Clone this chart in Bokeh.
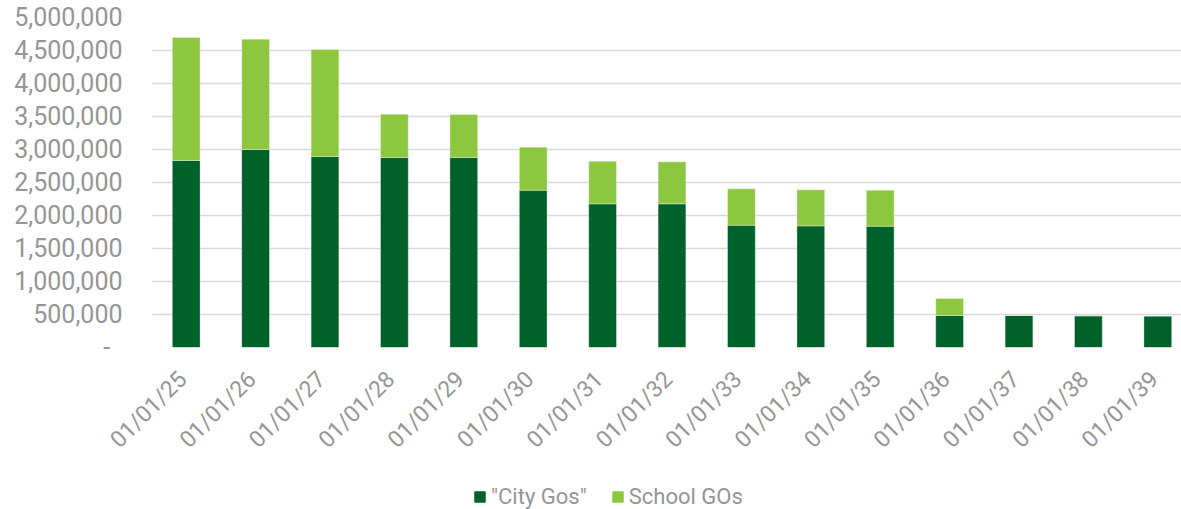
from bokeh.plotting import figure
from bokeh.models import (ColumnDataSource, Range1d, FixedTicker, Legend, LegendItem)
from bokeh.layouts import column
from bokeh.embed import file_html
from bokeh.resources import INLINE
import math

# ---- data ----
dates = ["01/01/25", "01/01/26", "01/01/27", "01/01/28", "01/01/29", "01/01/30",
         "01/01/31", "01/01/32", "01/01/33", "01/01/34", "01/01/35", "01/01/36",
         "01/01/37", "01/01/38", "01/01/39"]
city_gos = [2833000, 3000000, 2894000, 2879000, 2879000, 2383000, 2177000, 2177000,
            1853000, 1843000, 1838000, 485000, 485000, 480000, 477000]
school_gos = [1864000, 1672000, 1621000, 656000, 651000, 652000, 646000, 636000,
              551000, 546000, 546000, 257000, 0, 0, 0]
series_names = ['"City Gos"', "School GOs"]
ytick_values = [0, 500000, 1000000, 1500000, 2000000, 2500000, 3000000,
                3500000, 4000000, 4500000, 5000000]
ytick_labels = ["-\u00a0\u00a0", "500,000", "1,000,000", "1,500,000", "2,000,000",
                "2,500,000", "3,000,000", "3,500,000", "4,000,000", "4,500,000",
                "5,000,000"]

# ---- style ----
DARK = "#00612A"
LIGHT = "#8DC63F"
GRID = "#d9d9d9"
TEXT = "#959595"
FONT = "Roboto"
COLORS = [DARK, LIGHT]

W = 1181
H_MAIN, H_LEG = 469, 40
LEFT, TOP = 151, 17
FRAME_BOTTOM = 347
spacing_px = 69.4
label_shift = -0.05   # small nudge of rotated labels relative to bar centres
frame_w = W - LEFT

xs = list(range(len(dates)))
source = ColumnDataSource(dict(x=xs, city=city_gos, school=school_gos))

p = figure(width=W, height=H_MAIN, output_backend="svg", toolbar_location=None,
           x_range=Range1d(-0.5, -0.5 + frame_w / spacing_px),
           y_range=Range1d(0, 5000000),
           min_border_left=LEFT, min_border_right=0,
           min_border_top=TOP, min_border_bottom=H_MAIN - FRAME_BOTTOM)
p.outline_line_color = None
p.background_fill_color = "white"
p.border_fill_color = "white"

rs = p.vbar_stack(["city", "school"], x="x", width=0.40, source=source,
                  color=COLORS, line_color="white", line_alpha=0.35,
                  line_width=1)

# grid
p.xgrid.grid_line_color = None
p.ygrid.grid_line_color = GRID
p.ygrid.grid_line_width = 1.5

# y axis
p.yaxis.ticker = FixedTicker(ticks=ytick_values)
p.yaxis.major_label_overrides = {v: l for v, l in zip(ytick_values, ytick_labels)}
p.yaxis.axis_line_color = None
p.yaxis.major_tick_line_color = None
p.yaxis.minor_tick_line_color = None
p.yaxis.major_label_standoff = 23
p.yaxis.major_label_text_font = FONT
p.yaxis.major_label_text_font_size = "25px"
p.yaxis.major_label_text_color = TEXT

# x axis
xticks = [x + label_shift for x in xs]
p.xaxis.ticker = FixedTicker(ticks=xticks)
p.xaxis.major_label_overrides = {t: d for t, d in zip(xticks, dates)}
p.xaxis.axis_line_color = None
p.xaxis.major_tick_line_color = None
p.xaxis.minor_tick_line_color = None
p.xaxis.major_label_orientation = math.pi / 4
p.xaxis.major_label_standoff = 22
p.xaxis.major_label_text_font = FONT
p.xaxis.major_label_text_font_size = "23px"
p.xaxis.major_label_text_color = TEXT

# ---- legend strip ----
p2 = figure(width=W, height=H_LEG, output_backend="svg", toolbar_location=None,
            x_range=Range1d(0, 1), y_range=Range1d(0, 1),
            min_border=0, min_border_left=0, min_border_right=0,
            min_border_top=0, min_border_bottom=0)
p2.axis.visible = False
p2.grid.visible = False
p2.outline_line_color = None
p2.border_fill_color = "white"
src2 = ColumnDataSource(dict(x=xs, city=city_gos, school=school_gos))
swatches = [p2.vbar(x="x", top=col, width=0.4, color=c, source=src2, visible=False)
            for col, c in zip(["city", "school"], COLORS)]

legend = Legend(items=[LegendItem(label=n, renderers=[r]) for n, r in zip(series_names, swatches)],
                location=(322, 0), orientation="horizontal",
                glyph_width=13, glyph_height=13, label_standoff=5, spacing=24,
                padding=0, margin=0, border_line_color=None,
                background_fill_alpha=0,
                inactive_fill_alpha=0,
                label_text_font=FONT, label_text_font_size="22px",
                label_text_color=TEXT)
p2.add_layout(legend)

layout = column(p, p2, spacing=0)
open("out.html", "w").write(file_html(layout, INLINE))
